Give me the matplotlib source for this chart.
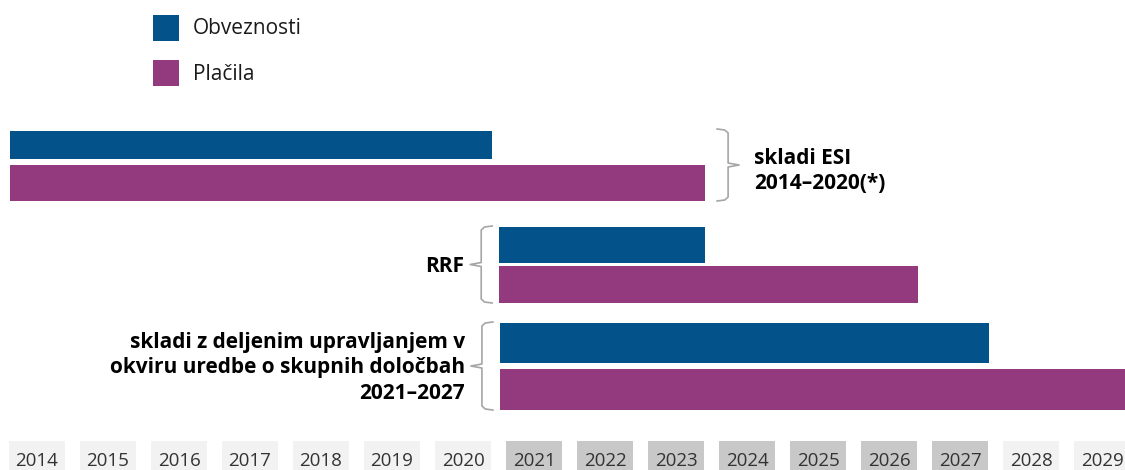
import matplotlib.pyplot as plt
from matplotlib.patches import Rectangle

plt.rcParams['font.family'] = ['Open Sans', 'DejaVu Sans']

# data
groups = ["skladi ESI\n2014–2020(*)", "RRF",
          "skladi z deljenim upravljanjem v\nokviru uredbe o skupnih določbah\n2021–2027"]
obv_start = [2014, 2021, 2021]
obv_end = [2020, 2023, 2027]
pla_start = [2014, 2021, 2021]
pla_end = [2023, 2026, 2030]
years = list(range(2014, 2030))
dark_years = list(range(2021, 2028))

blue = '#03528a'
purple = '#93397d'
grey = '#a6a6a6'

fig = plt.figure(figsize=(11.25, 4.7), dpi=100)
ax = fig.add_axes([0, 0, 1, 1])
px = 1 / 71.0  # one pixel in year units
x_left = 2014 - 37 * px
ax.set_xlim(x_left, x_left + 1125 * px)
ax.set_ylim(470, 0)
ax.axis('off')

# bar layout (pixel rows)
obv_y = [(131, 159), (227, 263), (323, 363)]
pla_y = [(165, 201), (266, 303), (369, 410)]
start_off = [0.38, 0.49, 0.48]
end_off = 0.41

for i in range(len(groups)):
    t, b = obv_y[i]
    ax.barh((t + b) / 2, obv_end[i] - obv_start[i] + end_off + start_off[i],
            left=obv_start[i] - start_off[i], height=b - t, color=blue)
    t, b = pla_y[i]
    ax.barh((t + b) / 2, pla_end[i] - pla_start[i] + end_off + start_off[i],
            left=pla_start[i] - start_off[i], height=b - t, color=purple)


def brace(x, top, bot, right=True):
    d = 1 if right else -1
    w = 11 * px * d
    tip = 11 * px * d
    mid = (top + bot) / 2
    xs = [x, x + w * 0.7, x + w, x + w, x + w + tip, x + w, x + w, x + w * 0.7, x]
    ys = [top, top + 1, top + 4, mid - 2, mid, mid + 2, bot - 4, bot - 1, bot]
    ax.plot(xs, ys, color=grey, lw=1.2, solid_joinstyle='round')


# ESI brace on the right
esi_x = pla_end[0] + end_off + 12 * px
brace(esi_x, 129, 201, right=True)
ax.text(esi_x + 37 * px, 171, groups[0], ha='left', va='center', fontsize=15,
        fontweight='bold', color='black', linespacing=1.3)

# RRF and shared braces on the left
for i in (1, 2):
    x0 = pla_start[i] - start_off[i] - 7 * px
    top = obv_y[i][0] - 1
    bot = pla_y[i][1]
    brace(x0, top, bot, right=False)
    ax.text(x0 - 28 * px, (top + bot) / 2 + 2, groups[i], ha='right', va='center',
            fontsize=15, fontweight='bold', color='black', linespacing=1.3)

# year strip
for y in years:
    c = '#c8c8c8' if y in dark_years else '#f2f2f2'
    ax.add_patch(Rectangle((y - 0.4, 441), 0.8, 40, color=c, lw=0))
    ax.text(y, 461, str(y), ha='center', va='center', fontsize=13.5, color='#333333')

# legend
ax.add_patch(Rectangle((x_left + 153 * px, 15), 26 * px, 26, color=blue, lw=0))
ax.add_patch(Rectangle((x_left + 153 * px, 60), 26 * px, 26, color=purple, lw=0))
ax.text(x_left + 193 * px, 29, "Obveznosti", va='center', fontsize=15, color='#1a1a1a')
ax.text(x_left + 193 * px, 74, "Plačila", va='center', fontsize=15, color='#1a1a1a')

fig.savefig('out.png', dpi=100)
